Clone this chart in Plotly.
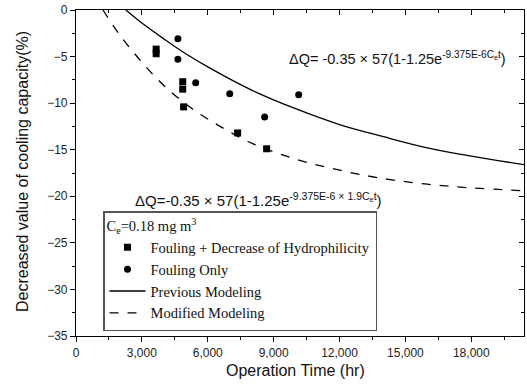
import plotly.graph_objects as go

# Data
sq_t = [3650, 3650, 4860, 4860, 4900, 7360, 8680]
sq_v = [-4.2, -4.7, -7.7, -8.5, -10.4, -13.2, -14.9]
ci_t = [4640, 4640, 5450, 7000, 8590, 10140]
ci_v = [-3.1, -5.3, -7.8, -9.0, -11.5, -9.1]

prev_t = [2270, 3000, 4000, 5000, 6000, 8000, 10000, 12000, 14000, 16000, 18000, 20400]
prev_v = [0.0, -1.4, -3.1, -4.7, -6.1, -8.6, -10.6, -12.3, -13.6, -14.8, -15.7, -16.6]
mod_t = [1230, 2000, 3000, 4000, 5000, 6000, 8000, 10000, 12000, 14000, 16000, 18000, 20400]
mod_v = [0.0, -2.7, -5.6, -8.1, -10.1, -11.7, -14.3, -16.0, -17.2, -18.1, -18.7, -19.1, -19.4]

x_ticks = [0, 3000, 6000, 9000, 12000, 15000, 18000]
y_ticks = [0, -5, -10, -15, -20, -25, -30, -35]

serif = "Liberation Serif, Times New Roman, serif"
sans = "Liberation Sans, Arial, sans-serif"

W, H = 527, 390
ML, MR, MT, MB = 76, 3, 10, 54
pw, ph = W - ML - MR, H - MT - MB


def px(x):
    return (x - ML) / pw


def py(y):
    return 1 - (y - MT) / ph


fig = go.Figure()
fig.add_trace(go.Scatter(x=sq_t, y=sq_v, mode="markers", name="Fouling + Decrease of Hydrophilicity",
                         marker=dict(symbol="square", size=7, color="black")))
fig.add_trace(go.Scatter(x=ci_t, y=ci_v, mode="markers", name="Fouling Only",
                         marker=dict(symbol="circle", size=7, color="black")))
fig.add_trace(go.Scatter(x=prev_t, y=prev_v, mode="lines", name="Previous Modeling",
                         line=dict(color="black", width=1.3, shape="spline")))
fig.add_trace(go.Scatter(x=mod_t, y=mod_v, mode="lines", name="Modified Modeling",
                         line=dict(color="black", width=1.3, dash="dash", shape="spline")))
# invisible carrier trace so the mirrored (top/right) tick axes are drawn
fig.add_trace(go.Scatter(x=sq_t, y=sq_v, xaxis="x2", yaxis="y2", mode="markers",
                         marker=dict(opacity=0, size=1), showlegend=False, hoverinfo="skip"))

axis_common = dict(showline=True, mirror=True, linecolor="black", linewidth=1.2, showgrid=False, zeroline=False,
                   ticks="outside", ticklen=5, tickcolor="black", tickwidth=1, automargin=False,
                   tickfont=dict(family=sans, size=12, color="#222"))

fig.update_layout(
    width=W, height=H,
    margin=dict(l=ML, r=MR, t=MT, b=MB),
    paper_bgcolor="white", plot_bgcolor="white",
    xaxis=dict(range=[0, 20400], tickvals=x_ticks, tickformat=",d",
               minor=dict(dtick=1500, ticks="outside", ticklen=3, tickcolor="black"),
               **axis_common),
    yaxis=dict(range=[-35, 0], tickvals=y_ticks,
               minor=dict(dtick=2.5, ticks="outside", ticklen=3, tickcolor="black"),
               **axis_common),
    xaxis2=dict(range=[0, 20400], overlaying="x", side="top", anchor="y2", showline=False,
                ticks="inside", ticklen=5, tickcolor="black", tickvals=x_ticks, showticklabels=False,
                minor=dict(dtick=1500, ticks="inside", ticklen=3, tickcolor="black"), showgrid=False,
                zeroline=False, automargin=False),
    yaxis2=dict(range=[-35, 0], overlaying="y", side="right", anchor="x2", showline=False,
                ticks="inside", ticklen=5, tickcolor="black", tickvals=y_ticks, showticklabels=False,
                minor=dict(dtick=2.5, ticks="inside", ticklen=3, tickcolor="black"), showgrid=False,
                zeroline=False, automargin=False),
    showlegend=True,
    legend=dict(x=px(103), y=py(211), xanchor="left", yanchor="top", bgcolor="white",
                bordercolor="#555", borderwidth=1.5,
                font=dict(family=serif, size=14.5, color="#111"),
                title=dict(text="C<sub>e</sub>=0.18 mg m<sup>3</sup>", font=dict(family=serif, size=14.5, color="#111")),
                tracegroupgap=0, itemwidth=36),
    annotations=[
        dict(x=px(287), y=py(58), xref="paper", yref="paper", showarrow=False, xanchor="left", yanchor="middle",
             text="ΔQ= -0.35 × 57(1-1.25e<sup>-9.375E-6C<sub>e</sub>t</sup>)",
             font=dict(family=sans, size=14.5, color="#111")),
        dict(x=px(133), y=py(199), xref="paper", yref="paper", showarrow=False, xanchor="left", yanchor="middle",
             text="ΔQ=-0.35 × 57(1-1.25e<sup>-9.375E-6 × 1.9C<sub>e</sub>t</sup>)",
             font=dict(family=sans, size=15, color="#111")),
        dict(x=px(295), y=py(370), xref="paper", yref="paper", showarrow=False, xanchor="center", yanchor="middle",
             text="Operation Time (hr)", font=dict(family=sans, size=16, color="#111")),
        dict(x=px(22), y=py(172), xref="paper", yref="paper", showarrow=False, xanchor="center", yanchor="middle",
             text="Decreased value of cooling capacity(%)", textangle=-90,
             font=dict(family=sans, size=16, color="#111")),
    ],
)

fig.write_html("out.html", config={"displayModeBar": False},
               post_script="document.body.style.margin='0';document.body.style.overflow='hidden';")
